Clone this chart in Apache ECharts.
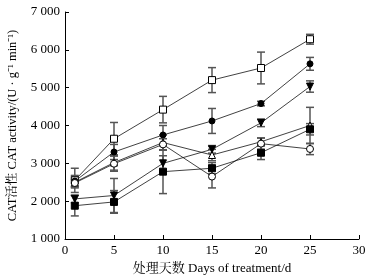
<!DOCTYPE html>
<html>
<head>
<meta charset="utf-8">
<script src="https://cdn.jsdelivr.net/npm/echarts@6/dist/echarts.min.js"></script>
<style>
html,body{margin:0;padding:0;background:#fff;}
#chart{width:371px;height:278px;}
</style>
</head>
<body>
<div id="chart"></div>
<script>
var myChart = echarts.init(document.getElementById('chart'));
var FONT = '"Liberation Serif","Noto Serif CJK SC","Noto Sans CJK SC",serif';

// days of treatment
var days = [1, 5, 10, 15, 20, 25];

// CAT activity, one list per treatment, and its error (+/-)
var openSquare   = [2550, 3650, 4420, 5200, 5520, 6280];
var openSquareE  = [320, 430, 350, 330, 420, 130];
var fillCircle   = [2530, 3300, 3750, 4120, 4580, 5630];
var fillCircleE  = [150, 200, 250, 330, 60, 170];
var fillTriDown  = [2060, 2150, 3000, 3370, 4070, 5030];
var fillTriDownE = [100, 450, 200, 100, 100, 150];
var openTri      = [2500, 3020, 3550, 3220, 3570, 4000];
var openTriE     = [150, 200, 200, 150, 100, 480];
var fillSquare   = [1880, 1980, 2780, 2870, 3280, 3900];
var fillSquareE  = [270, 300, 580, 150, 180, 150];
var openCircle   = [2480, 2990, 3500, 2650, 3520, 3380];
var openCircleE  = [100, 200, 150, 300, 150, 150];

var yTicks = ['1 000', '2 000', '3 000', '4 000', '5 000', '6 000', '7 000'];

function pts(vals){
    var out = [];
    for (var i in vals) out.push([days[i], vals[i]]);
    return out;
}
function errPts(vals, errs){
    var out = [];
    for (var i in vals) out.push([days[i], vals[i] - errs[i], vals[i] + errs[i]]);
    return out;
}

function errRender(params, api){
    var lo = api.coord([api.value(0), api.value(1)]);
    var hi = api.coord([api.value(0), api.value(2)]);
    var w = 4;
    var st = {stroke: '#555', lineWidth: 1.5};
    return {
        type: 'group',
        children: [
            {type: 'line', shape: {x1: lo[0], y1: lo[1], x2: hi[0], y2: hi[1]}, style: st},
            {type: 'line', shape: {x1: lo[0]-w, y1: lo[1], x2: lo[0]+w, y2: lo[1]}, style: st},
            {type: 'line', shape: {x1: hi[0]-w, y1: hi[1], x2: hi[0]+w, y2: hi[1]}, style: st}
        ]
    };
}

var groups = [
    {vals: openSquare,  errs: openSquareE,  symbol: 'rect',     open: true,  size: 7, rot: 0},
    {vals: fillCircle,  errs: fillCircleE,  symbol: 'circle',   open: false, size: 6, rot: 0},
    {vals: fillTriDown, errs: fillTriDownE, symbol: 'triangle', open: false, size: 7, rot: 180},
    {vals: openTri,     errs: openTriE,     symbol: 'triangle', open: true,  size: 7, rot: 0},
    {vals: fillSquare,  errs: fillSquareE,  symbol: 'rect',     open: false, size: 7, rot: 0},
    {vals: openCircle,  errs: openCircleE,  symbol: 'circle',   open: true,  size: 7, rot: 0}
];

var series = [];
groups.forEach(function(g){
    series.push({
        type: 'custom',
        renderItem: errRender,
        data: errPts(g.vals, g.errs),
        z: 1,
        silent: true
    });
});
groups.forEach(function(g){
    series.push({
        type: 'line',
        data: pts(g.vals),
        symbol: g.symbol,
        symbolSize: g.size,
        symbolRotate: g.rot,
        showAllSymbol: true,
        lineStyle: {color: '#111', width: 0.8},
        itemStyle: {
            color: g.open ? '#fff' : '#000',
            borderColor: '#000',
            borderWidth: 1
        },
        z: 3
    });
});

var option = {
    animation: false,
    grid: {left: 65, right: 12, top: 12, bottom: 39, outerBoundsMode: 'none', containLabel: false},
    xAxis: {
        type: 'value',
        min: 0, max: 30, interval: 5,
        name: '处理天数 Days of treatment/d',
        nameLocation: 'middle',
        nameGap: 23,
        nameTextStyle: {fontFamily: FONT, fontSize: 13, color: '#000'},
        axisLine: {lineStyle: {color: '#000', width: 1}},
        axisTick: {inside: true, length: 4, lineStyle: {color: '#000'}},
        axisLabel: {fontFamily: FONT, fontSize: 13, color: '#000', margin: 5},
        splitLine: {show: false}
    },
    yAxis: {
        type: 'value',
        min: 1000, max: 7000, interval: 1000,
        name: 'CAT活性 CAT activity/(U · g⁻¹ min⁻¹)',
        nameLocation: 'middle',
        nameGap: 46,
        nameTextStyle: {fontFamily: FONT, fontSize: 12.5, color: '#000'},
        axisLine: {show: true, lineStyle: {color: '#000', width: 1}},
        axisTick: {inside: true, length: 4, lineStyle: {color: '#000'}},
        axisLabel: {
            fontFamily: FONT, fontSize: 13, color: '#000', margin: 5,
            formatter: function(v){ return yTicks[(v - 1000) / 1000]; }
        },
        splitLine: {show: false}
    },
    series: series
};
myChart.setOption(option);
</script>
</body>
</html>
